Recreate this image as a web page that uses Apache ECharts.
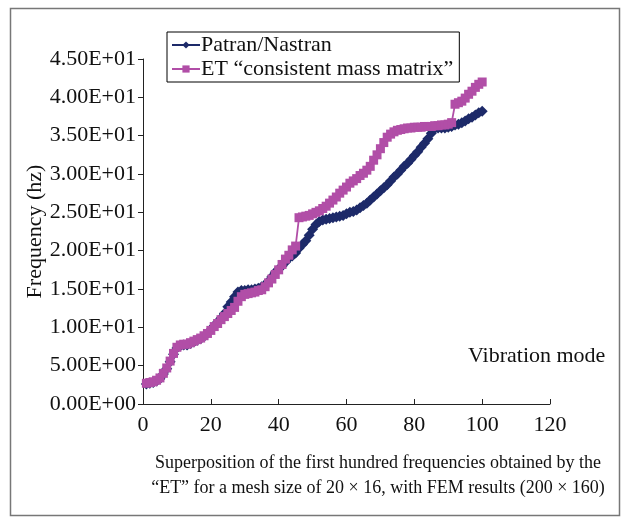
<!DOCTYPE html>
<html>
<head>
<meta charset="utf-8">
<script src="https://cdn.jsdelivr.net/npm/echarts@6/dist/echarts.min.js"></script>
<style>
html,body{margin:0;padding:0;background:#fff;}
#chart{width:622px;height:519px;}
</style>
</head>
<body>
<div id="chart"></div>
<script>
var modes = [];
for (var i = 1; i <= 100; i++) modes.push(i);

var patranNastran = [
  2.6, 2.7, 2.8, 3.0, 3.3, 3.9, 4.6, 5.5, 6.5, 7.3,
  7.6, 7.7, 7.7, 7.9, 8.1, 8.3, 8.5, 8.8, 9.2, 9.7,
  10.2, 10.7, 11.2, 11.8, 12.7, 13.3, 14.0, 14.6, 14.8, 14.8,
  14.9, 14.9, 15.0, 15.1, 15.3, 15.6, 16.0, 16.6, 17.2, 17.6,
  18.0, 18.5, 19.0, 19.3, 19.7, 20.3, 20.8, 21.3, 22.0, 22.8,
  23.4, 23.8, 24.0, 24.1, 24.2, 24.3, 24.4, 24.5, 24.6, 24.8,
  25.0, 25.1, 25.3, 25.6, 25.9, 26.2, 26.6, 27.0, 27.4, 27.8,
  28.2, 28.6, 29.1, 29.6, 30.0, 30.5, 31.0, 31.4, 31.9, 32.4,
  32.9, 33.5, 34.0, 34.6, 35.3, 35.9, 36.0, 36.0, 36.0, 36.1,
  36.2, 36.4, 36.5, 36.7, 36.9, 37.2, 37.4, 37.7, 38.0, 38.2
];

var etConsistent = [
  2.7, 2.8, 2.9, 3.1, 3.4, 4.0, 4.7, 5.6, 6.6, 7.4,
  7.7, 7.8, 7.8, 8.0, 8.2, 8.4, 8.6, 8.9, 9.2, 9.6,
  10.1, 10.5, 11.0, 11.4, 11.8, 12.2, 12.6, 13.4, 14.0, 14.3,
  14.4, 14.5, 14.6, 14.8, 14.9, 15.3, 15.8, 16.3, 16.9, 17.5,
  18.2, 18.9, 19.4, 20.1, 20.6, 24.3, 24.4, 24.5, 24.6, 24.8,
  25.0, 25.2, 25.5, 25.8, 26.2, 26.6, 27.0, 27.5, 27.9, 28.3,
  28.8, 29.1, 29.4, 29.8, 30.1, 30.5, 31.0, 31.8, 32.5, 33.3,
  34.1, 34.8, 35.2, 35.5, 35.7, 35.8, 35.9, 36.0, 36.0, 36.1,
  36.1, 36.1, 36.2, 36.2, 36.2, 36.3, 36.3, 36.4, 36.4, 36.5,
  36.7, 39.1, 39.3, 39.5, 39.9, 40.4, 40.8, 41.3, 41.7, 42.0
];

var seriesNames = ['Patran/Nastran', 'ET \u201Cconsistent mass matrix\u201D'];
var yTickLabels = ['0.00E+00','5.00E+00','1.00E+01','1.50E+01','2.00E+01','2.50E+01','3.00E+01','3.50E+01','4.00E+01','4.50E+01'];
var xTickLabels = ['0','20','40','60','80','100','120'];
var yAxisTitle = 'Frequency (hz)';
var innerLabel = 'Vibration mode';
var captionLines = ['Superposition of the first hundred frequencies obtained by the',
                    '\u201CET\u201D for a mesh size of 20 \u00D7 16, with FEM results (200 \u00D7 160)'];

function pairs(ys) { return ys.map(function (v, i) { return [modes[i], v]; }); }

var FONT = '"Liberation Serif", "Times New Roman", serif';
var navy = '#1d2a69';
var magenta = '#b14ea7';

var chart = echarts.init(document.getElementById('chart'), null, {renderer: 'canvas'});
chart.setOption({
  backgroundColor: '#ffffff',
  animation: false,
  textStyle: {fontFamily: FONT},
  grid: {left: 143, right: 72, top: 59, bottom: 115, containLabel: false},
  legend: {
    orient: 'vertical',
    left: 167, top: 32,
    data: seriesNames,
    backgroundColor: '#fff',
    borderColor: '#000', borderWidth: 1,
    padding: [2, 6, 2, 4],
    itemWidth: 28, itemHeight: 9, itemGap: 2,
    textStyle: {fontFamily: FONT, fontSize: 22, color: '#111', padding: [0, 0, 0, -4]}
  },
  xAxis: {
    type: 'value', min: 0, max: 120, interval: 20,
    axisLine: {show: true, lineStyle: {color: '#222', width: 1}},
    axisTick: {show: true, inside: true, length: 5, lineStyle: {color: '#222'}},
    axisLabel: {fontFamily: FONT, fontSize: 22, color: '#111', margin: 10,
      formatter: function (v) { return xTickLabels[Math.round(v / 20)]; }},
    splitLine: {show: false}
  },
  yAxis: {
    type: 'value', min: 0, max: 45, interval: 5,
    name: yAxisTitle, nameLocation: 'middle', nameGap: 97, nameRotate: 90,
    nameMoveOverlap: false,
    nameTextStyle: {fontFamily: FONT, fontSize: 22, color: '#111'},
    axisLine: {show: true, lineStyle: {color: '#222', width: 1}},
    axisTick: {show: true, inside: false, length: 5, lineStyle: {color: '#222'}},
    axisLabel: {fontFamily: FONT, fontSize: 22, color: '#111', margin: 7,
      formatter: function (v) { return yTickLabels[Math.round(v / 5)]; }},
    splitLine: {show: false}
  },
  series: [
    {
      name: seriesNames[0], type: 'line', data: pairs(patranNastran),
      symbol: 'diamond', symbolSize: 11, showSymbol: true,
      lineStyle: {color: navy, width: 2},
      itemStyle: {color: navy},
      z: 2
    },
    {
      name: seriesNames[1], type: 'line', data: pairs(etConsistent),
      symbol: 'rect', symbolSize: 9, showSymbol: true,
      lineStyle: {color: magenta, width: 1.8},
      itemStyle: {color: magenta},
      z: 3
    }
  ],
  graphic: [
    {type: 'rect', left: 8, top: 6, shape: {width: 609, height: 507},
      style: {fill: 'none', stroke: '#777', lineWidth: 1.5}, silent: true},
    {type: 'text', left: 468, top: 345,
      style: {text: innerLabel, font: '22px ' + FONT, fill: '#111'}},
    {type: 'text', x: 378, y: 451,
      style: {text: captionLines.join('\n'), font: '18px ' + FONT, fill: '#111',
        textAlign: 'center', lineHeight: 25}}
  ]
});
</script>
</body>
</html>
